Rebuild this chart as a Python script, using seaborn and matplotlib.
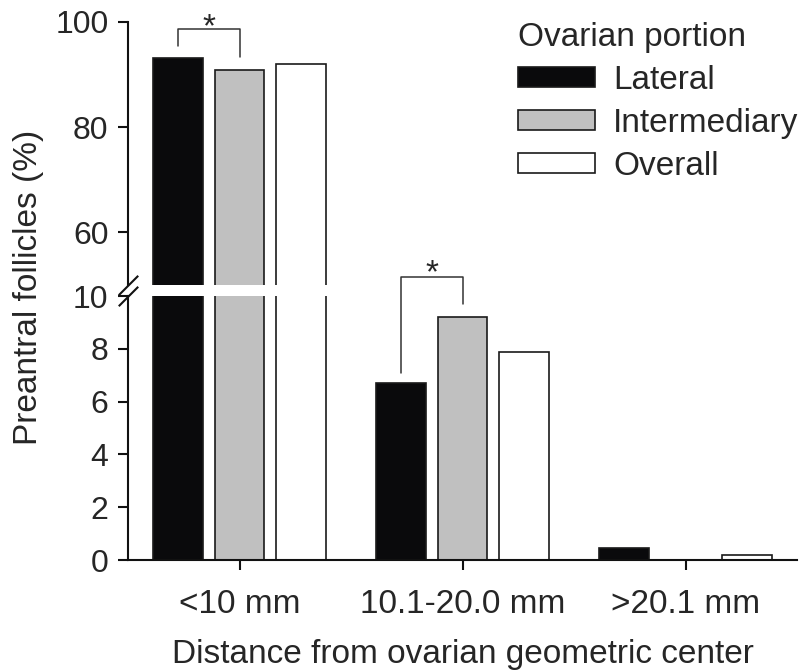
import numpy as np
import pandas as pd
import matplotlib
matplotlib.use('Agg')
import matplotlib.pyplot as plt
import seaborn as sns

# ---------------- data ----------------
categories = ['<10 mm', '10.1-20.0 mm', '>20.1 mm']
portions = ['Lateral', 'Intermediary', 'Overall']
lateral = [93.1, 6.72, 0.44]
intermediary = [90.8, 9.19, 0.0]
overall = [92.1, 7.89, 0.2]
colors = ['#0a0a0c', '#c0c0c0', '#ffffff']
upper_ticks = [60, 80, 100]
lower_ticks = [0, 2, 4, 6, 8, 10]

sns.set_style('ticks')
plt.rcParams['font.family'] = ['Liberation Sans', 'DejaVu Sans']

df = pd.DataFrame({
    'distance': categories * 3,
    'portion': np.repeat(portions, len(categories)),
    'pct': lateral + intermediary + overall,
})

W, H = 806, 672
fig = plt.figure(figsize=(W / 100, H / 100), dpi=100)
left, right = 128, 797
ax_up = fig.add_axes([left / W, 1 - 285 / H, (right - left) / W, (285 - 22) / H])
ax_lo = fig.add_axes([left / W, 1 - 560 / H, (right - left) / W, (560 - 296) / H])

for ax in (ax_up, ax_lo):
    sns.barplot(data=df, x='distance', y='pct', hue='portion',
                order=categories, hue_order=portions, palette=colors,
                edgecolor='#1a1a1a', linewidth=1.2, width=0.825, gap=0.19,
                saturation=1, ax=ax, legend=(ax is ax_lo))
    ax.set_xlim(-0.5, 2.5)
    ax.set_xlabel('')
    ax.set_ylabel('')
    for s in ('top', 'right'):
        ax.spines[s].set_visible(False)
    for s in ('left', 'bottom'):
        ax.spines[s].set_linewidth(1.5)
        ax.spines[s].set_color('#111111')
    ax.tick_params(axis='y', direction='out', length=7, width=1.5,
                   labelsize=23, pad=7, color='#111111')

ax_up.set_ylim(50, 100)
ax_up.set_yticks(upper_ticks)
ax_up.spines['bottom'].set_visible(False)
ax_up.tick_params(axis='x', bottom=False, labelbottom=False)

ax_lo.set_ylim(0, 10)
ax_lo.set_yticks(lower_ticks)
ax_lo.tick_params(axis='x', direction='out', length=7, width=1.5,
                  labelsize=24, pad=14, color='#111111')

# break marks
for ax, yy in ((ax_up, 0), (ax_lo, 1)):
    ax.plot([0], [yy], transform=ax.transAxes, marker=[(-1, -1), (1, 1)],
            markersize=14, mew=1.5, color='#111111', linestyle='none',
            clip_on=False)

# significance brackets
def bar_center(ax, hue_i, cat_i):
    p = ax.containers[hue_i][cat_i]
    return p.get_x() + p.get_width() / 2

x1, x2 = bar_center(ax_up, 0, 0), bar_center(ax_up, 1, 0)
ax_up.plot([x1, x1, x2, x2],
           [lateral[0] + 2.4, 98.6, 98.6, intermediary[0] + 2.6],
           color='#333333', lw=1.1, clip_on=False)
ax_up.text((x1 + x2) / 2, 97.2, '*', ha='center', va='baseline', fontsize=24)

x1, x2 = bar_center(ax_lo, 0, 1), bar_center(ax_lo, 1, 1)
ax_lo.plot([x1, x1, x2, x2],
           [lateral[1] + 0.37, 10.73, 10.73, intermediary[1] + 0.5],
           color='#333333', lw=1.1, clip_on=False)
ax_lo.text((x1 + x2) / 2, 10.52, '*', ha='center', va='baseline', fontsize=24)

# labels
fig.text(29 / W, 1 - 287 / H, 'Preantral follicles (%)', rotation=90,
         ha='center', va='center', fontsize=24)
fig.text((left + right) / 2 / W, 1 - 655 / H,
         'Distance from ovarian geometric center',
         ha='center', va='center', fontsize=24)

# legend
handles, labels = ax_lo.get_legend_handles_labels()
ax_lo.legend_.remove()
leg = fig.legend(handles, labels, title='Ovarian portion', loc='upper left',
                 bbox_to_anchor=(518 / W, 1 - 22 / H), frameon=False,
                 fontsize=24, title_fontsize=24, handlelength=2.31,
                 handleheight=0.57, handletextpad=0.54, labelspacing=0.36,
                 borderpad=0, borderaxespad=0)
leg._legend_box.align = 'left'

fig.savefig('out.png', dpi=100)
